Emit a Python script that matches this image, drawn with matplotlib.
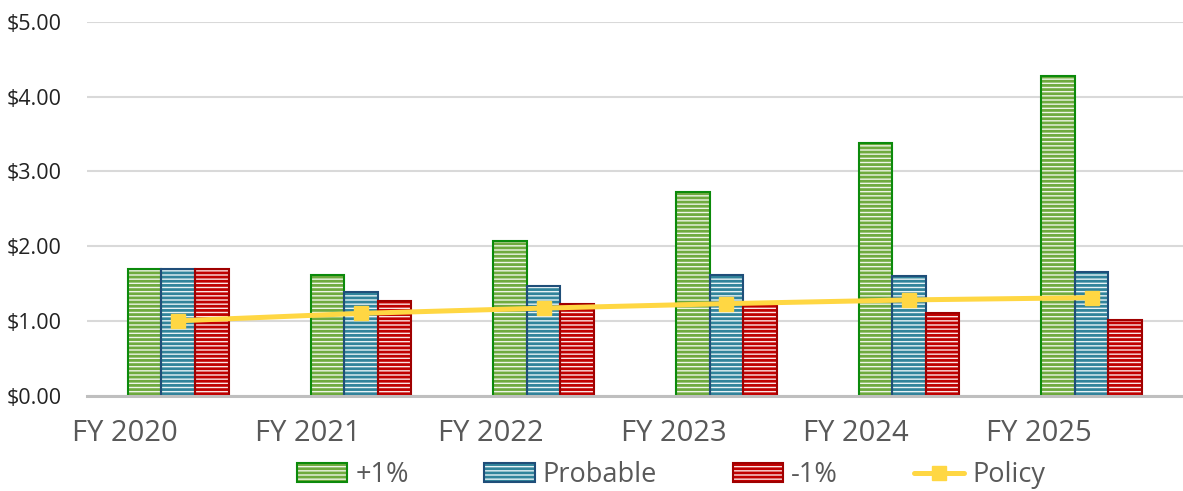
import matplotlib
matplotlib.use("Agg")
import matplotlib.pyplot as plt
import numpy as np
from matplotlib.patches import Patch
from matplotlib.lines import Line2D
from matplotlib.legend_handler import HandlerTuple

categories = ["FY 2020", "FY 2021", "FY 2022", "FY 2023", "FY 2024", "FY 2025"]
plus1 = [1.70, 1.61, 2.07, 2.73, 3.38, 4.28]
probable = [1.70, 1.38, 1.47, 1.61, 1.60, 1.66]
minus1 = [1.70, 1.26, 1.23, 1.22, 1.10, 1.01]
policy = [1.00, 1.10, 1.17, 1.23, 1.28, 1.31]
series_names = ["+1%", "Probable", "-1%", "Policy"]
yticks = [0, 1, 2, 3, 4, 5]

plt.rcParams['font.family'] = ['Open Sans', 'DejaVu Sans']
plt.rcParams['hatch.linewidth'] = 2.0

fig = plt.figure(figsize=(11.83, 4.91), dpi=100)
ax = fig.add_axes([0.0735, 0.1945, 0.9265, 0.7605])

x = np.arange(len(categories))
w = 0.184
styles = [
    (plus1, "#EEF5E8", "#6FAA3F", "#0B8A0B"),
    (probable, "#E8F3F6", "#31849B", "#1F4E79"),
    (minus1, "#FBE4E4", "#C00000", "#A00000"),
]
handles = []
for i, (vals, gap, stripe, outline) in enumerate(styles):
    off = (i - 1) * w
    ax.bar(x + off, vals, w, color=gap, edgecolor=stripe, hatch='----',
           linewidth=0, zorder=2)
    ax.bar(x + off, vals, w, fill=False, edgecolor=outline, linewidth=1.5,
           zorder=3)
    h1 = Patch(facecolor=gap, edgecolor=stripe, hatch='----', linewidth=0)
    h2 = Patch(fill=False, edgecolor=outline, linewidth=1.5)
    handles.append((h1, h2))

ax.plot(x, policy, color="#FFD743", lw=3.6, marker='s', markersize=10,
        zorder=5, solid_capstyle='round')
handles.append(Line2D([], [], color="#FFD743", lw=3.6, marker='s',
                      markersize=10, solid_capstyle='round'))

ax.set_xlim(-0.5, len(categories) - 0.5)
ax.set_ylim(0, 5)
ax.set_yticks(yticks)
ax.set_yticklabels(["${:.2f}".format(v) for v in yticks])
ax.set_xticks(x - 0.29)
ax.set_xticklabels(categories)
ax.tick_params(axis='y', length=0, pad=18, labelsize=15.5, labelcolor='#222222')
ax.tick_params(axis='x', length=0, pad=17, labelsize=21, labelcolor='#595959')

for s in ['top', 'right', 'left']:
    ax.spines[s].set_visible(False)
ax.spines['bottom'].set_color('#BFBFBF')
ax.spines['bottom'].set_linewidth(2.2)
ax.spines['bottom'].set_zorder(6)
ax.yaxis.grid(True, color='#D9D9D9', linewidth=1.5, zorder=0)
ax.set_axisbelow(True)

leg = fig.legend(handles, series_names, loc='center',
                 bbox_to_anchor=(671 / 1183, 1 - 475 / 491),
                 ncol=4, frameon=False, fontsize=19.5,
                 handlelength=1.85, handleheight=0.7, handletextpad=0.3,
                 columnspacing=2.8, borderpad=0,
                 handler_map={tuple: HandlerTuple(ndivide=1, pad=0)})
for t in leg.get_texts():
    t.set_color('#595959')

fig.savefig("out.png", dpi=100)
